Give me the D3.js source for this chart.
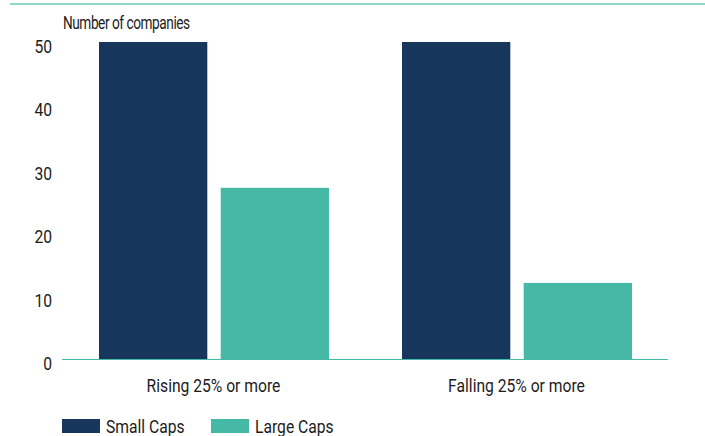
<!DOCTYPE html>
<html>
<head>
<meta charset="utf-8">
<script src="https://cdn.jsdelivr.net/npm/d3@7"></script>
<style>
  html, body { margin: 0; padding: 0; background: #fff; }
  svg text { font-family: Roboto, "Liberation Sans", sans-serif; fill: #1c1c1c; font-size: 18px; transform-box: fill-box; }
  /* narrow, condensed lettering */
  .cond-start { transform: scaleX(0.87); transform-origin: left center; }
  .cond-mid { transform: scaleX(0.87); transform-origin: center center; }
  .cond-end { transform: scaleX(0.87); transform-origin: right center; }
  .cond-title { transform: scaleX(0.76); transform-origin: left center; letter-spacing: -0.6px; }
</style>
</head>
<body>
<svg id="chart" width="705" height="436"></svg>
<script>
const categories = ["Rising 25% or more", "Falling 25% or more"];
const seriesNames = ["Small Caps", "Large Caps"];
const smallCaps = [50, 50];
const largeCaps = [27, 12];
const yTicks = [0, 10, 20, 30, 40, 50];

const colors = { "Small Caps": "#17365c", "Large Caps": "#46b9a6" };

const svg = d3.select("#chart");
const W = 705, H = 436;
const margin = { left: 62, right: 37, top: 42, bottom: 77 };

const x0 = d3.scaleBand().domain(categories).range([margin.left, W - margin.right]);
const x1 = d3.scaleBand().domain(seriesNames).range([37, x0.bandwidth() - 36]).paddingInner(0.11);
const y = d3.scaleLinear().domain([0, 50]).range([H - margin.bottom, margin.top]);

// top rule
svg.append("line").attr("x1", 10).attr("x2", W).attr("y1", 4).attr("y2", 4)
  .attr("stroke", "#6cc7b7").attr("stroke-width", 1.5);

// axis title
svg.append("text").attr("class", "cond-title").attr("x", 63).attr("y", 29).text("Number of companies");

// y tick labels
const gy = svg.append("g").attr("transform", "translate(52,0)")
  .call(d3.axisLeft(y).tickValues(yTicks).tickSize(0).tickPadding(0));
gy.select(".domain").remove();
gy.attr("font-family", null).attr("font-size", null);
gy.selectAll("text")
  .attr("class", "cond-end")
  .attr("fill", null)
  .attr("dy", 10.5);

const data = categories.map((c, i) => ({ cat: c, values: [
  { key: "Small Caps", value: smallCaps[i] },
  { key: "Large Caps", value: largeCaps[i] }
]}));

const groups = svg.append("g").selectAll("g").data(data).join("g")
  .attr("transform", d => `translate(${x0(d.cat)},0)`);
groups.selectAll("rect").data(d => d.values).join("rect")
  .attr("x", d => x1(d.key))
  .attr("width", x1.bandwidth())
  .attr("y", d => y(d.value))
  .attr("height", d => y(0) - y(d.value))
  .attr("fill", d => colors[d.key]);

// baseline
svg.append("line").attr("x1", margin.left).attr("x2", W - margin.right)
  .attr("y1", y(0) + 0.5).attr("y2", y(0) + 0.5)
  .attr("stroke", "#46b9a6").attr("stroke-width", 1.2);

// category labels
const gx = svg.append("g").attr("transform", `translate(0,${y(0)})`)
  .call(d3.axisBottom(x0).tickSize(0).tickPadding(0));
gx.select(".domain").remove();
gx.attr("font-family", null).attr("font-size", null);
gx.selectAll("text")
  .attr("class", "cond-mid")
  .attr("fill", null)
  .attr("y", 33).attr("dy", 0);

// legend
const legend = svg.append("g").attr("transform", "translate(62,419)");
const lx = [0, 149];
seriesNames.forEach((s, i) => {
  const g = legend.append("g").attr("transform", `translate(${lx[i]},0)`);
  g.append("rect").attr("width", 38).attr("height", 14).attr("fill", colors[s]);
  g.append("text").attr("class", "cond-start").attr("x", 44).attr("y", 14).text(s);
});
</script>
</body>
</html>
